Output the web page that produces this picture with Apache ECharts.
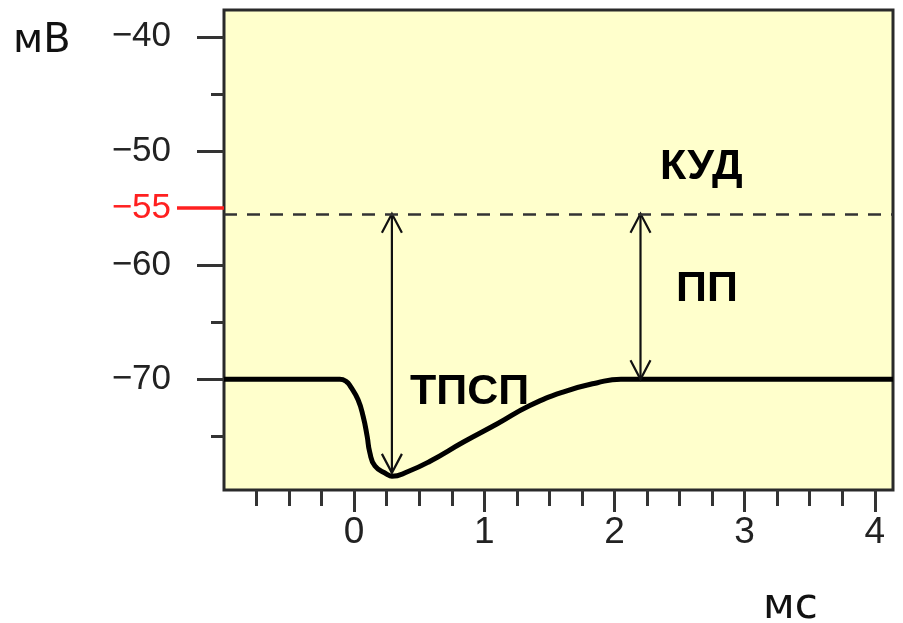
<!DOCTYPE html>
<html>
<head>
<meta charset="utf-8">
<script src="https://cdn.jsdelivr.net/npm/echarts@6/dist/echarts.min.js"></script>
<style>
  html, body { margin: 0; padding: 0; background: #ffffff; }
  #chart { width: 903px; height: 623px; }
</style>
</head>
<body>
<div id="chart"></div>
<script>
// ---- data ----
const timeMs      = [-1, -0.11, -0.06, -0.03, 0.03, 0.07, 0.10, 0.12, 0.16, 0.25, 0.29, 0.41, 0.58, 0.84, 1.10, 1.35, 1.61, 1.87, 2.05, 4.14];
const potentialMv = [-70, -70, -70.2, -70.6, -71.8, -73.3, -75.0, -76.4, -77.6, -78.3, -78.5, -78.1, -77.2, -75.5, -73.9, -72.3, -71.1, -70.3, -70, -70];

const thresholdMv = -55.5;           // dashed КУД line
const arrowTPSP = [0.29, -55.5, -78.2];   // x, top, bottom
const arrowPP   = [2.20, -55.5, -70];

const xMajorTicks = [0, 1, 2, 3, 4];
const xMinorTicks = [-0.75, -0.5, -0.25, 0.25, 0.5, 0.75, 1.25, 1.5, 1.75, 2.25, 2.5, 2.75, 3.25, 3.5, 3.75];
const xTickLabels = ['0', '1', '2', '3', '4'];

const yMajorTicks = [-40, -50, -60, -70];
const yMinorTicks = [-45, -65, -75];
const yTickLabels = ['\u221240', '\u221250', '\u221260', '\u221270'];
const yRedTick = [-55];
const yRedLabel = ['\u221255'];

const X_MIN = -1, X_MAX = 4.14, Y_MIN = -79.7, Y_MAX = -37.65;

const chart = echarts.init(document.getElementById('chart'), null, { renderer: 'canvas' });

const baseX = {
  type: 'value', min: X_MIN, max: X_MAX, position: 'bottom',
  axisLine: { show: false, onZero: false }, splitLine: { show: false }
};
const baseY = {
  type: 'value', min: Y_MIN, max: Y_MAX, position: 'left',
  axisLine: { show: false, onZero: false }, splitLine: { show: false }
};

const option = {
  animation: false,
  backgroundColor: '#ffffff',
  grid: {
    left: 224, right: 10, top: 10, bottom: 133,
    show: true, backgroundColor: '#FFFFCC',
    borderColor: '#2a2a2a', borderWidth: 3
  },
  xAxis: [
    Object.assign({}, baseX, {
      axisTick: { show: true, length: 22, customValues: xMajorTicks, lineStyle: { color: '#333', width: 3 } },
      axisLabel: {
        show: true, customValues: xMajorTicks, margin: 24,
        fontFamily: 'Liberation Sans', fontSize: 37, color: '#222',
        formatter: v => xTickLabels[xMajorTicks.indexOf(v)] ?? ''
      }
    }),
    Object.assign({}, baseX, {
      axisTick: { show: true, length: 16, customValues: xMinorTicks, lineStyle: { color: '#333', width: 3 } },
      axisLabel: { show: false }
    })
  ],
  yAxis: [
    Object.assign({}, baseY, {
      axisTick: { show: true, length: 27, customValues: yMajorTicks, lineStyle: { color: '#333', width: 3 } },
      axisLabel: {
        show: true, customValues: yMajorTicks, margin: 53,
        fontFamily: 'Liberation Sans', fontSize: 35, color: '#222',
        formatter: v => yTickLabels[yMajorTicks.indexOf(v)] ?? ''
      }
    }),
    Object.assign({}, baseY, {
      axisTick: { show: true, length: 13, customValues: yMinorTicks, lineStyle: { color: '#333', width: 3 } },
      axisLabel: { show: false }
    }),
    Object.assign({}, baseY, {
      axisTick: { show: true, length: 47, customValues: yRedTick, lineStyle: { color: '#ff2020', width: 3.5 } },
      axisLabel: {
        show: true, customValues: yRedTick, margin: 53,
        fontFamily: 'Liberation Sans', fontSize: 35, color: '#ff2020',
        formatter: v => yRedLabel[yRedTick.indexOf(v)] ?? ''
      }
    })
  ],
  series: [
    {
      type: 'line',
      xAxisIndex: 0, yAxisIndex: 0,
      data: timeMs.map((t, i) => [t, potentialMv[i]]),
      smooth: 0.5,
      symbol: 'none',
      lineStyle: { color: '#000', width: 5 },
      clip: true,
      markLine: {
        silent: true,
        symbol: 'none',
        label: { show: false },
        lineStyle: { color: '#333', width: 2.5, type: [13, 10] },
        data: [{ yAxis: thresholdMv }]
      },
      z: 3
    },
    {
      type: 'custom',
      xAxisIndex: 0, yAxisIndex: 0,
      data: [arrowTPSP, arrowPP],
      renderItem: function (params, api) {
        const x = api.value(0), yTop = api.value(1), yBot = api.value(2);
        const p1 = api.coord([x, yTop]);
        const p2 = api.coord([x, yBot]);
        const w = 10, h = 19;
        const st = { stroke: '#111', lineWidth: 2.2, fill: null };
        return {
          type: 'group',
          children: [
            { type: 'line', shape: { x1: p1[0], y1: p1[1], x2: p2[0], y2: p2[1] }, style: st },
            { type: 'polyline', shape: { points: [[p1[0] - w, p1[1] + h], [p1[0], p1[1]], [p1[0] + w, p1[1] + h]] }, style: st },
            { type: 'polyline', shape: { points: [[p2[0] - w, p2[1] - h], [p2[0], p2[1]], [p2[0] + w, p2[1] - h]] }, style: st }
          ]
        };
      },
      z: 4
    }
  ],
  graphic: [
    { type: 'text', left: 13, top: 22, style: { text: 'мВ', fontFamily: 'DejaVu Sans', fontSize: 40, fill: '#111' } },
    { type: 'text', left: 763, top: 586, style: { text: 'мс', fontFamily: 'DejaVu Sans', fontSize: 42, fill: '#111' } },
    { type: 'text', left: 660, top: 146, z: 10, style: { text: 'КУД', fontFamily: 'Liberation Sans', fontWeight: 'bold', fontSize: 43, fill: '#000' } },
    { type: 'text', left: 676, top: 268, z: 10, style: { text: 'ПП', fontFamily: 'Liberation Sans', fontWeight: 'bold', fontSize: 43, fill: '#000' } },
    { type: 'text', left: 410, top: 371, z: 10, style: { text: 'ТПСП', fontFamily: 'Liberation Sans', fontWeight: 'bold', fontSize: 43, fill: '#000' } }
  ]
};

chart.setOption(option);
</script>
</body>
</html>
